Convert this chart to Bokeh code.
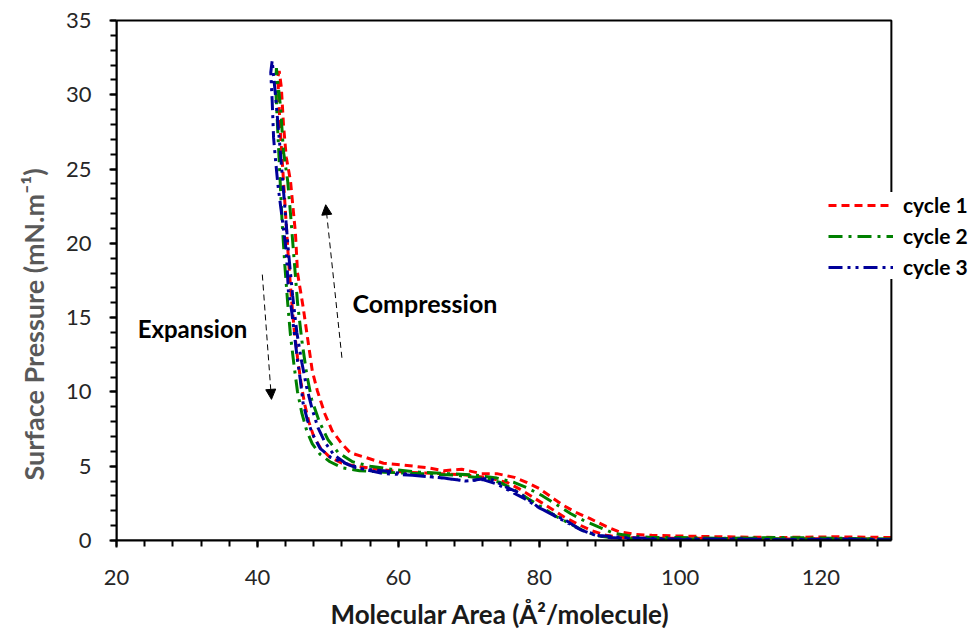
from bokeh.plotting import figure
from bokeh.models import (Legend, LegendItem, BoxAnnotation, Arrow, NormalHead, Label, Title,
                          SingleIntervalTicker, Range1d)
from bokeh.embed import file_html
from bokeh.resources import INLINE

# ---------------- data ----------------
c1_comp_area = [130, 122, 114, 106, 100, 96, 93.8, 91.3, 89.5, 87.1, 85.2, 83.3, 81.8, 80.0, 78.3,
                76.5, 74.0, 71.8, 69.0, 66.5, 64.1, 60.3, 57.9, 55.3, 53.2, 52.0, 50.6, 49.6, 48.5,
                47.8, 47.1, 46.5, 45.7, 45.4, 44.7, 44.1, 43.7, 43.4, 43.1]
c1_comp_pi = [0.2, 0.25, 0.2, 0.25, 0.3, 0.35, 0.4, 0.6, 0.95, 1.5, 1.9, 2.4, 2.9, 3.5, 3.9,
              4.25, 4.5, 4.5, 4.8, 4.7, 4.9, 5.1, 5.2, 5.6, 5.9, 6.5, 7.4, 8.5, 10.1,
              11.4, 13.7, 15.7, 18.0, 20.7, 24.2, 25.8, 28.0, 30.5, 31.6]
c1_exp_area = [42.9, 43.2, 43.6, 44.0, 44.4, 44.8, 45.2, 45.7, 46.2, 46.7, 47.3, 48.0, 49.0, 50.3,
               52.0, 54.0, 57.0, 61.0, 66.0, 70.0, 73.0, 75.5, 77.5, 79.5, 81.5, 83.5, 85.5, 87.5,
               89.5, 92.0, 96.0, 104.0, 112.0, 120.0, 128.0]
c1_exp_pi = [31.2, 28.0, 25.0, 22.0, 19.0, 16.5, 14.3, 12.3, 10.6, 9.2, 8.0, 7.0, 6.2, 5.6,
             5.2, 5.0, 4.8, 4.6, 4.5, 4.4, 4.2, 3.9, 3.4, 2.8, 2.2, 1.6, 1.1, 0.65,
             0.35, 0.2, 0.15, 0.15, 0.1, 0.12, 0.1]

c2_comp_area = [130, 122, 114, 106, 100, 96, 93, 90.5, 88.5, 86.5, 84.5, 82.5, 80.5, 78.5, 76.5,
                74.0, 71.0, 67.0, 63.0, 59.0, 56.0, 53.5, 51.5, 50.0, 48.8, 47.7, 47.0, 46.3,
                45.7, 45.2, 44.7, 44.3, 43.7, 43.3, 42.7]
c2_comp_pi = [0.1, 0.15, 0.2, 0.15, 0.2, 0.2, 0.3, 0.5, 0.9, 1.3, 1.8, 2.4, 3.0, 3.5, 3.9,
              4.2, 4.4, 4.5, 4.6, 4.8, 5.0, 5.3, 5.9, 6.8, 8.0, 9.5, 11.2, 13.5,
              16.0, 19.0, 22.0, 24.2, 26.2, 29.1, 31.8]
c2_exp_area = [42.6, 42.9, 43.2, 43.5, 43.9, 44.3, 44.7, 45.2, 45.7, 46.3, 47.0, 47.8, 48.9, 50.3,
               52.0, 54.5, 58.0, 63.0, 68.0, 72.0, 74.5, 76.5, 78.5, 80.5, 82.5, 84.5, 86.5, 88.5,
               91.0, 95.0, 102.0, 110.0, 118.0, 126.0, 130.0]
c2_exp_pi = [30.5, 27.5, 24.5, 21.5, 18.5, 16.0, 13.8, 11.8, 10.0, 8.6, 7.4, 6.5, 5.8, 5.3,
             4.9, 4.7, 4.6, 4.5, 4.4, 4.2, 3.9, 3.4, 2.8, 2.2, 1.6, 1.1, 0.6, 0.3,
             0.15, 0.1, 0.1, 0.15, 0.1, 0.1, 0.1]

c3_comp_area = [130, 122, 114, 106, 100, 95, 92, 89.5, 88.5, 86.1, 83.8, 81.8, 80.0, 77.2, 75.3,
                72.9, 69.6, 66.5, 62.0, 58.0, 55.0, 52.5, 50.8, 49.6, 48.6, 47.8, 47.0, 46.3,
                45.6, 45.0, 44.4, 43.8, 43.2, 42.6, 42.1]
c3_comp_pi = [0.05, 0.1, 0.05, 0.1, 0.1, 0.15, 0.2, 0.3, 0.34, 0.67, 1.35, 1.8, 2.2, 3.2, 3.6,
              4.2, 4.0, 4.2, 4.4, 4.5, 4.8, 5.2, 5.8, 6.6, 7.6, 8.8, 10.3, 12.0,
              14.0, 16.5, 19.5, 23.0, 26.5, 29.8, 32.3]
c3_exp_area = [41.9, 42.1, 42.3, 42.6, 42.9, 43.3, 43.7, 44.1, 44.4, 44.8, 45.2, 45.7, 46.1, 46.5,
               47.1, 47.8, 48.9, 50.4, 52.2, 54.2, 57.9, 62.0, 66.5, 69.6, 72.0, 74.0, 76.0, 78.0,
               80.0, 82.0, 84.0, 86.0, 88.0, 90.0, 94.0, 100.0, 108.0, 116.0, 124.0, 130.0]
c3_exp_pi = [31.5, 29.6, 27.1, 25.5, 24.0, 22.5, 21.0, 19.5, 16.8, 15.7, 14.1, 12.1, 10.8, 9.2,
             8.1, 7.2, 6.2, 5.6, 5.25, 4.85, 4.7, 4.4, 4.2, 4.0, 4.1, 3.8, 3.3, 2.8,
             2.2, 1.7, 1.2, 0.7, 0.35, 0.2, 0.1, 0.05, 0.1, 0.05, 0.05, 0.05]

series_names = ["cycle 1", "cycle 2", "cycle 3"]
x_title = "Molecular Area (Å²/molecule)"
y_title = "Surface Pressure (mN.m⁻¹)"

# ---------------- figure ----------------
FONT = "Lato"
X_MIN, X_MAX = 20, 130
Y_MIN, Y_MAX = 0, 35
p = figure(width=974, height=639, output_backend="svg", toolbar_location=None,
           x_range=Range1d(X_MIN, X_MAX + 11.8), y_range=Range1d(Y_MIN, Y_MAX + 0.34),
           min_border_left=116, min_border_top=15, min_border_right=0, min_border_bottom=99)
p.grid.visible = False
p.outline_line_color = None
p.background_fill_color = "white"
p.border_fill_color = "white"

p.xaxis.ticker = SingleIntervalTicker(interval=20, num_minor_ticks=5)
p.yaxis.ticker = SingleIntervalTicker(interval=5, num_minor_ticks=5)
p.xaxis.bounds = (X_MIN, X_MAX)
p.yaxis.bounds = (Y_MIN, Y_MAX)
for ax in (p.xaxis[0], p.yaxis[0]):
    ax.axis_line_color = "black"
    ax.axis_line_width = 2
    ax.major_tick_line_color = "black"
    ax.major_tick_line_width = 2
    ax.minor_tick_line_color = "black"
    ax.minor_tick_line_width = 2
    ax.major_tick_in = 0
    ax.major_tick_out = 7
    ax.minor_tick_in = 0
    ax.minor_tick_out = 6
    ax.major_label_text_font = FONT
    ax.major_label_text_font_size = "22px"
    ax.major_label_text_color = "#262626"

p.xaxis.major_label_standoff = 22
p.yaxis.major_label_standoff = 18

# axis titles (placed as side titles so they align with the 20-130 axis span)
p.add_layout(Title(text=y_title, align="left", offset=60, standoff=26,
                   text_font=FONT, text_font_style="bold", text_font_size="27px",
                   text_color="#595959"), "left")
p.add_layout(Title(text=x_title, align="left", offset=214, standoff=17,
                   text_font=FONT, text_font_style="bold", text_font_size="26px",
                   text_color="#1a1a1a"), "below")

# plot-area border (top and right sides)
p.add_layout(BoxAnnotation(left=X_MIN, right=X_MAX, bottom=Y_MIN, top=Y_MAX,
                           fill_alpha=0, line_color="black", line_alpha=1.0, line_width=2))

colors = ["#FF0000", "#008000", "#000099"]
dashes = ["8 5", "14 6 3 6", "14 5 3 5 3 5"]
data = [(c1_comp_area + c1_exp_area, c1_comp_pi + c1_exp_pi),
        (c2_comp_area + c2_exp_area, c2_comp_pi + c2_exp_pi),
        (c3_comp_area + c3_exp_area, c3_comp_pi + c3_exp_pi)]
renderers = []
for (xs, ys), c, d in zip(data, colors, dashes):
    r = p.line(xs, ys, line_color=c, line_width=3, line_dash=d)
    renderers.append(r)

# annotations
p.add_layout(Arrow(x_start=40.7, y_start=17.9, x_end=42.0, y_end=9.5,
                   line_color="black", line_width=1, line_dash="6 4",
                   end=NormalHead(size=10, fill_color="black", line_color="black")))
p.add_layout(Arrow(x_start=52.0, y_start=12.3, x_end=49.7, y_end=22.6,
                   line_color="black", line_width=1, line_dash="6 4",
                   end=NormalHead(size=10, fill_color="black", line_color="black")))
p.add_layout(Label(x=23.0, y=14.3, text="Expansion", text_font=FONT, text_font_style="bold",
                   text_font_size="24px", text_baseline="middle", text_color="black"))
p.add_layout(Label(x=53.5, y=16.0, text="Compression", text_font=FONT, text_font_style="bold",
                   text_font_size="25px", text_baseline="middle", text_color="black"))

legend = Legend(items=[LegendItem(label=n, renderers=[r]) for n, r in zip(series_names, renderers)],
                location=(712, 261), padding=10, margin=0, spacing=6,
                glyph_width=65, glyph_height=24, label_standoff=10,
                label_text_font=FONT, label_text_font_style="bold", label_text_font_size="21px",
                label_text_color="black", border_line_color=None,
                background_fill_color="white", background_fill_alpha=1.0)
p.add_layout(legend, "center")

open("out.html", "w").write(file_html(p, INLINE))
